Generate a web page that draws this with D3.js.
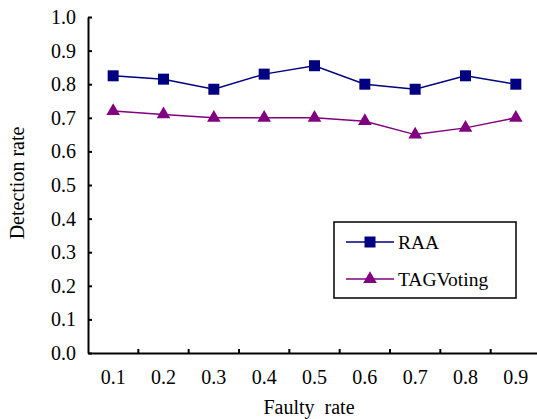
<!DOCTYPE html>
<html><head><meta charset="utf-8">
<script src="https://cdn.jsdelivr.net/npm/d3@7"></script>
<style>body{margin:0;background:#fff}svg{display:block}</style>
</head><body><svg id="c" width="537" height="419"></svg>
<script>
const categories = ["0.1","0.2","0.3","0.4","0.5","0.6","0.7","0.8","0.9"];
const raa = [0.825,0.815,0.785,0.83,0.855,0.80,0.785,0.825,0.80];
const tag = [0.72,0.71,0.70,0.70,0.70,0.69,0.65,0.67,0.70];
const yTicks = [0,0.1,0.2,0.3,0.4,0.5,0.6,0.7,0.8,0.9,1.0];
const seriesNames = ["RAA","TAGVoting"];

const FONT = "'Liberation Serif', 'DejaVu Serif', serif";
const svg = d3.select("#c");
const L=88, R=541, T=17, B=353;
const x = d3.scaleBand().domain(categories).range([L,R]);
const y = d3.scaleLinear().domain([0,1]).range([B,T]);

// y axis
const ya = svg.append("g").attr("transform",`translate(${L},0)`)
  .call(d3.axisLeft(y).tickValues(yTicks).tickFormat(d3.format(".1f")).tickSizeInner(-4).tickSizeOuter(0).tickPadding(12));
ya.attr("font-family",null);
ya.select(".domain").attr("stroke","#000").attr("stroke-width",2);
ya.selectAll(".tick line").attr("stroke","#000").attr("stroke-width",2);
ya.selectAll("text").attr("font-size",20).attr("fill","#000").style("font-family",FONT);

// x axis
const xa = svg.append("g").attr("transform",`translate(0,${B})`)
  .call(d3.axisBottom(x).tickSize(0).tickPadding(17));
xa.attr("font-family",null);
xa.select(".domain").attr("stroke","#000").attr("stroke-width",2);
xa.selectAll("text").attr("font-size",20).attr("fill","#000").style("font-family",FONT);
const bounds = categories.map(c=>x(c)).slice(1).concat([R]);
svg.append("g").selectAll("line").data(bounds).join("line")
  .attr("x1",d=>d).attr("x2",d=>d).attr("y1",B).attr("y2",B-4)
  .attr("stroke","#000").attr("stroke-width",2);

const cx = c => x(c)+x.bandwidth()/2;
const line = d3.line().x((d,i)=>cx(categories[i])).y(d=>y(d));
const cols = ["#000080","#800080"];
[raa,tag].forEach((s,k)=>{
  svg.append("path").datum(s).attr("d",line).attr("fill","none").attr("stroke",cols[k]).attr("stroke-width",1.5);
});
const sq = d3.symbol().type(d3.symbolSquare).size(121);
const tri = d3.symbol().type(d3.symbolTriangle).size(80);
svg.append("g").selectAll("path").data(raa).join("path")
  .attr("transform",(d,i)=>`translate(${cx(categories[i])},${y(d)})`)
  .attr("d",sq).attr("fill",cols[0]);
svg.append("g").selectAll("path").data(tag).join("path")
  .attr("transform",(d,i)=>`translate(${cx(categories[i])},${y(d)})`)
  .attr("d",tri).attr("fill",cols[1]);

// axis titles
svg.append("text").attr("x",309).attr("y",414).attr("text-anchor","middle").attr("font-size",20).style("font-family",FONT)
  .style("white-space","pre").text("Faulty  rate");
svg.append("text").attr("transform","translate(24,183) rotate(-90)").attr("text-anchor","middle").attr("font-size",20).style("font-family",FONT).text("Detection rate");

// legend
const lg = svg.append("g");
lg.append("rect").attr("x",334).attr("y",222).attr("width",182).attr("height",76).attr("fill","#fff").attr("stroke","#000").attr("stroke-width",1.5);
const ly = [242,279];
seriesNames.forEach((n,k)=>{
  lg.append("line").attr("x1",346).attr("x2",394).attr("y1",ly[k]).attr("y2",ly[k]).attr("stroke",cols[k]).attr("stroke-width",1.5);
  lg.append("path").attr("transform",`translate(370,${ly[k]})`).attr("d",k?tri:sq).attr("fill",cols[k]);
  lg.append("text").attr("x",398).attr("y",ly[k]+7).attr("font-size",19.5).style("font-family",FONT).text(n);
});
</script></body></html>
